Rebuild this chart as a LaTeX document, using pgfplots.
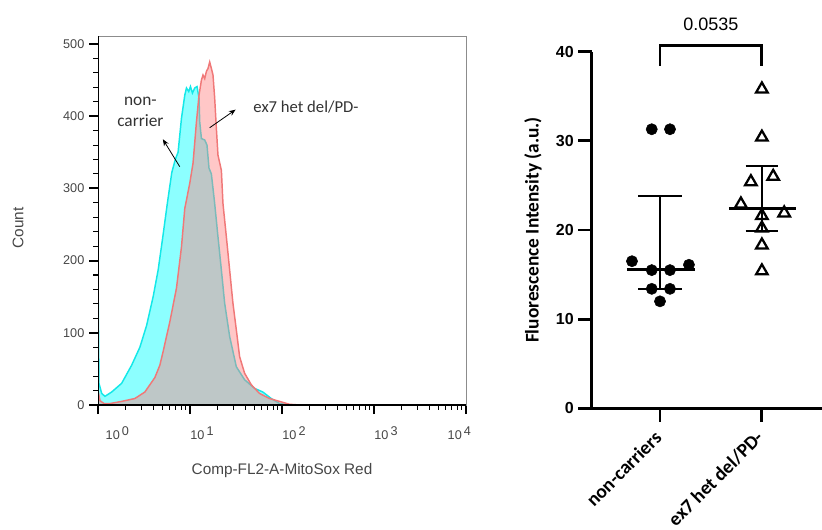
\documentclass[border=0pt]{standalone}
\usepackage{pgfplots}
\usepackage{pgfplotstable}
\pgfplotsset{compat=1.18}
\usepackage{fontspec}
\setmainfont{Liberation Sans}
\newfontfamily\carlito{Carlito}
\usetikzlibrary{arrows.meta}
\definecolor{cyanfill}{RGB}{140,255,255}
\definecolor{cyanline}{RGB}{20,232,232}
\definecolor{pinkfill}{RGB}{255,128,128}
\definecolor{redline}{RGB}{240,120,120}
\definecolor{lbl}{RGB}{70,70,70}

\pgfplotstableread{
x count
1.000 0
1.000 183
1.025 30
1.097 16
1.191 12
1.408 18
1.807 30
2.319 55
2.853 80
3.373 110
3.977 150
4.506 187
5.066 233
5.667 279
6.341 322
6.921 340
7.420 350
8.079 397
8.773 429
9.153 439
9.694 434
10.11 441
10.63 432
11.26 439
11.92 441
12.53 425
12.76 392
13.31 369
14.45 367
15.30 360
16.09 328
17.08 320
18.55 279
20.14 233
21.93 187
23.81 141
26.97 95
31.88 53
39.22 35
50.33 23
61.93 18
76.36 9
93.96 2
120.6 0
10000 0
}\noncarrier

\pgfplotstableread{
x count
1.000 0
1.000 20
1.051 6
1.162 2
1.349 2
1.807 5
2.518 9
3.232 18
4.149 38
4.699 55
5.105 74
5.556 95
6.033 115
7.131 162
8.079 219
8.773 272
9.938 307
10.79 335
11.75 392
12.53 429
13.31 450
13.85 457
14.45 452
15.08 462
15.69 466
16.37 475
17.08 466
17.78 457
18.55 425
19.35 383
20.14 346
21.93 325
22.82 279
24.84 233
26.97 187
29.29 141
31.89 104
34.62 67
39.22 44
46.37 28
57.03 16
73.18 9
93.97 5
120.6 1
154.8 0
10000 0
}\exseven

\pgfplotstableread{
x y
0.919 31.3
1.098 31.3
0.725 16.5
1.284 16.1
0.919 15.5
1.098 15.5
0.919 13.4
1.098 13.4
1.000 12.0
}\ncpoints

\pgfplotstableread{
x y
2.000 35.8
2.000 30.4
2.111 26.0
1.892 25.4
1.794 22.9
2.219 21.9
2.000 21.6
2.000 20.2
2.000 18.3
2.000 15.4
}\expoints

\begin{document}
\begin{tikzpicture}
\useasboundingbox (0,0) rectangle (616.5pt,396.75pt);

% ---------------- left panel: histogram ----------------
\begin{axis}[
  at={(73.5pt,93pt)}, anchor=south west, scale only axis,
  width=276pt, height=276.75pt,
  xmode=log, xmin=1, xmax=10000, ymin=0, ymax=511,
  xtick={1,10,100,1000,10000},
  xticklabels={\hspace*{29pt}10\,\raisebox{.6ex}{0},
               \hspace*{18pt}10\,\raisebox{.6ex}{1},
               \hspace*{18pt}10\,\raisebox{.6ex}{2},
               \hspace*{18pt}10\,\raisebox{.6ex}{3},
               10\,\raisebox{.6ex}{4}\hspace*{10pt}},
  ytick={0,100,200,300,400,500},
  minor y tick num=4,
  tick pos=left, tick align=outside,
  major tick length=6.75pt, minor tick length=3.5pt,
  major tick style={black, line width=1.4pt},
  minor tick style={black, line width=0.8pt},
  axis line style={draw=black!45, line width=0.6pt},
  tick label style={font=\fontsize{9.5}{11}\selectfont, text=lbl},
  xticklabel style={yshift=-6pt},
  /pgf/number format/assume math mode=true,
  xlabel={Comp-FL2-A-MitoSox Red},
  ylabel={Count},
  xlabel style={at={(axis description cs:0.5,-0.1765)}, anchor=center, font=\fontsize{11.5}{13}\selectfont, text=lbl},
  ylabel style={at={(axis description cs:-0.2174,0.4797)}, anchor=center, rotate=0, font=\fontsize{11.5}{13}\selectfont, text=lbl},
]
\addplot[draw=none, fill=cyanfill] table[x=x, y=count] {\noncarrier};
\addplot[cyanline, line width=1.1pt] table[x=x, y=count] {\noncarrier};
\addplot[draw=none, fill=pinkfill, fill opacity=0.44] table[x=x, y=count] {\exseven};
\addplot[redline, line width=1.1pt] table[x=x, y=count] {\exseven};
\draw[black, line width=1.5pt] (rel axis cs:0,1) -- (rel axis cs:0,0) -- (rel axis cs:1,0);
\node[font=\carlito\fontsize{13}{16}\selectfont, text=black!80, align=center] at (axis cs:2.89,406) {non-\\carrier};
\node[font=\carlito\fontsize{12.5}{15}\selectfont, text=black!80, anchor=west] at (axis cs:43.5,413) {ex7 het del/PD-};
\draw[-{Stealth[length=5pt,width=4pt]}, line width=0.6pt] (axis cs:7.74,330) -- (axis cs:5.07,368);
\draw[-{Stealth[length=5pt,width=4pt]}, line width=0.6pt] (axis cs:16.37,384) -- (axis cs:31.3,409);
\end{axis}

% ---------------- right panel: scatter ----------------
\begin{axis}[
  at={(443.8pt,90.5pt)}, anchor=south west, scale only axis,
  width=172.7pt, height=267.5pt,
  xmin=0.33, xmax=2.59, ymin=0, ymax=40,
  axis x line=bottom, axis y line=left,
  axis line style={-, line width=2.2pt},
  clip=false,
  xtick={1,2}, xticklabels={non-carriers, ex7 het del/PD-},
  ytick={0,10,20,30,40},
  tick align=outside,
  major tick length=10pt,
  major tick style={black, line width=2.2pt},
  /pgf/number format/assume math mode=true,
  yticklabel style={font=\bfseries\fontsize{12}{14}\selectfont},
  xticklabel style={font=\carlito\bfseries\fontsize{14.5}{17}\selectfont, xshift=1pt, yshift=-7pt, rotate=45, anchor=east},
  ylabel={Fluorescence Intensity (a.u.)},
  ylabel style={at={(axis description cs:-0.2549,0.5)}, anchor=center, font=\carlito\bfseries\fontsize{14.5}{17}\selectfont},
]
\addplot[only marks, mark=*, mark size=4.2pt, black] table[x=x, y=y] {\ncpoints};
\addplot[only marks, mark=triangle, mark size=5pt, black, mark options={line width=1.7pt}] table[x=x, y=y] {\expoints};
% medians
\addplot[black, line width=2.3pt] coordinates {(0.676,15.6) (1.343,15.6)};
\addplot[black, line width=2.3pt] coordinates {(1.676,22.4) (2.333,22.4)};
% interquartile ranges
\addplot[black, line width=1.1pt] coordinates {(1,13.4) (1,23.8)};
\addplot[black, line width=1.1pt] coordinates {(0.785,23.8) (1.215,23.8)};
\addplot[black, line width=1.1pt] coordinates {(0.785,13.4) (1.215,13.4)};
\addplot[black, line width=1.1pt] coordinates {(2,19.9) (2,27.2)};
\addplot[black, line width=1.1pt] coordinates {(1.84,27.2) (2.16,27.2)};
\addplot[black, line width=1.1pt] coordinates {(1.84,19.9) (2.16,19.9)};
% significance bracket
\draw[black, line width=2.2pt] (axis cs:1,38.4) -- (axis cs:1,40.7) -- (axis cs:2,40.7) -- (axis cs:2,38.4);
\node[font=\fontsize{13.5}{16}\selectfont] at (axis cs:1.5,43.1) {0.0535};
\end{axis}
\end{tikzpicture}
\end{document}
